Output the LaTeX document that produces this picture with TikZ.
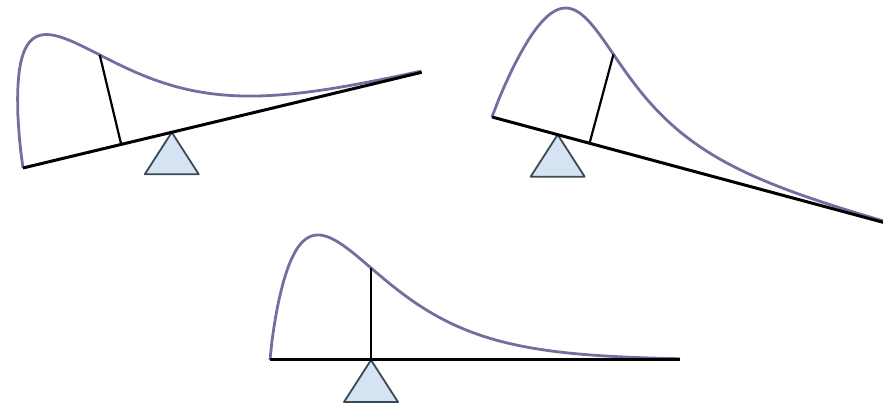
\documentclass[tikz,border=0pt]{standalone}

\definecolor{curveBlue}{HTML}{7070A0}
\definecolor{pivotFill}{HTML}{D5E3F3}
\definecolor{pivotEdge}{HTML}{3A4A55}

\begin{document}
\begin{tikzpicture}[x=1pt,y=1pt,line join=round,
  declare function={dens(\u)=125*exp(0.85*(ln(\u/48)+1-\u/48));},
  beam/.style={draw=black,line width=3pt},
  curve/.style={draw=curveBlue,line width=2.8pt},
  meanline/.style={draw=black,line width=2.2pt},
  pivot/.style={draw=pivotEdge,fill=pivotFill,line width=1.8pt}]
  \useasboundingbox (0,0) rectangle (883,406);
  \clip (0,0) rectangle (883,406);

  % beam tilted up to the right
  \begin{scope}[shift={(23,238)},rotate=13.5]
    \coordinate (l1) at (0,0);
    \coordinate (r1) at (410,0);
    \coordinate (m1) at (101,{dens(101)});
    \coordinate (b1) at (101,0);
    \coordinate (p1) at (153,0);
    \draw[curve] (0,0) -- plot[domain=0.05:410,samples=220] (\x,{dens(\x)});
  \end{scope}
  \draw[pivot] (p1) -- ++(-27,-42) -- ++(54,0) -- cycle;
  \draw[beam] (l1) -- (r1);
  \draw[meanline] (m1) -- (b1);

  % beam tilted down to the right
  \begin{scope}[shift={(492,289)},rotate=-15.07]
    \coordinate (l2) at (0,0);
    \coordinate (r2) at (410,0);
    \coordinate (m2) at (101,{dens(101)});
    \coordinate (b2) at (101,0);
    \coordinate (p2) at (68,0);
    \draw[curve] (0,0) -- plot[domain=0.05:410,samples=220] (\x,{dens(\x)});
  \end{scope}
  \draw[pivot] (p2) -- ++(-27,-42) -- ++(54,0) -- cycle;
  \draw[beam] (l2) -- (r2);
  \draw[meanline] (m2) -- (b2);

  % balanced beam
  \begin{scope}[shift={(270,46)}]
    \coordinate (l3) at (0,0);
    \coordinate (r3) at (410,0);
    \coordinate (m3) at (101,{dens(101)});
    \coordinate (b3) at (101,0);
    \coordinate (p3) at (101,0);
    \draw[curve] (0,0) -- plot[domain=0.05:410,samples=220] (\x,{dens(\x)});
  \end{scope}
  \draw[pivot] (p3) -- ++(-27,-42) -- ++(54,0) -- cycle;
  \draw[beam] (l3) -- (r3);
  \draw[meanline] (m3) -- (b3);
\end{tikzpicture}
\end{document}
